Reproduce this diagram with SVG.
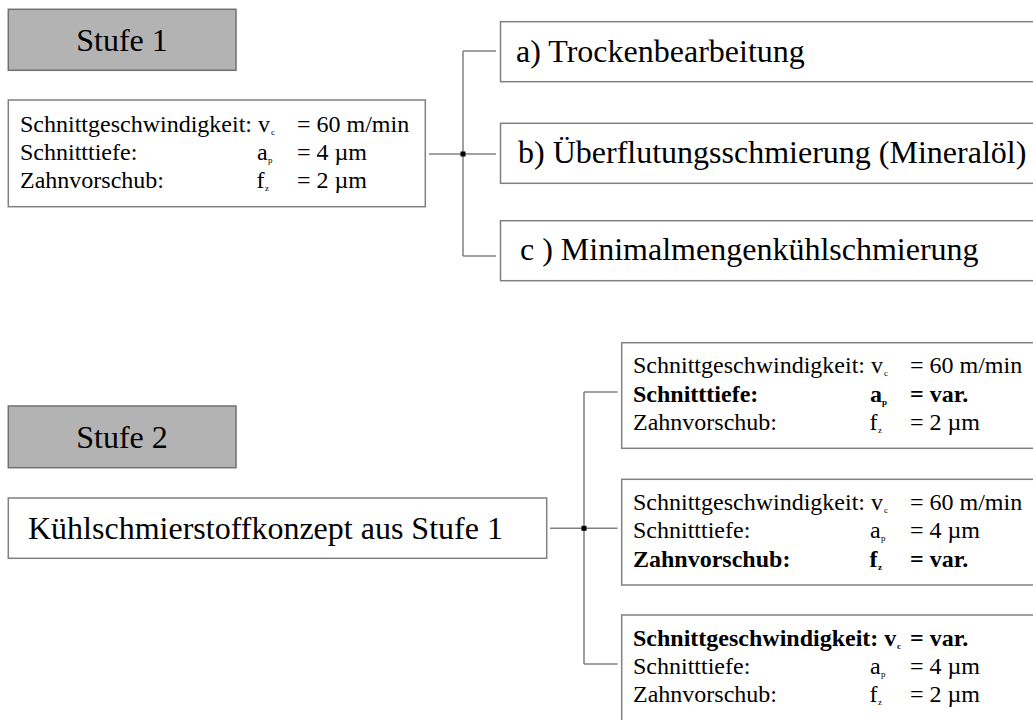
<svg xmlns="http://www.w3.org/2000/svg" width="1033" height="720" viewBox="0 0 1033 720">
<style>
text{font-family:"Liberation Serif","Times New Roman",serif;fill:#000}
.box{fill:#fff;stroke:#808080;stroke-width:1.5}
.stufe{fill:#b3b3b3;stroke:#707070;stroke-width:1.5}
.t32{font-size:32px}
.t24{font-size:24px}
.sub{font-size:9px}
.b{font-weight:bold}
.mid{text-anchor:middle}
.conn line{stroke:#808080;stroke-width:1.5}
.dot{fill:#000}
</style>
<rect width="1033" height="720" fill="#fff"/>

<g id="stufe1">
<rect class="stufe" x="8.3" y="9.3" width="227.7" height="61"/>
<text class="t32 mid" x="122" y="51">Stufe 1</text>
</g>

<g id="params1">
<rect class="box" x="8.3" y="100" width="417" height="106.7"/>
<text class="t24" x="20" y="132">Schnittgeschwindigkeit: v</text>
<text class="sub" x="271" y="135">c</text>
<text class="t24" x="297" y="132">= 60 m/min</text>
<text class="t24" x="20" y="160">Schnitttiefe:</text>
<text class="t24" x="257" y="160">a</text>
<text class="sub" x="268" y="163">p</text>
<text class="t24" x="297" y="160">= 4 µm</text>
<text class="t24" x="20" y="188">Zahnvorschub:</text>
<text class="t24" x="256.5" y="188">f</text>
<text class="sub" x="265" y="191">z</text>
<text class="t24" x="297" y="188">= 2 µm</text>
</g>

<g id="optA">
<rect class="box" x="500.5" y="21.7" width="600" height="60"/>
<text class="t32" x="516" y="62">a) Trockenbearbeitung</text>
</g>
<g id="optB">
<rect class="box" x="500.5" y="123.3" width="600" height="60"/>
<text class="t32" x="518" y="163">b) Überflutungsschmierung (Mineralöl)</text>
</g>
<g id="optC">
<rect class="box" x="500.5" y="220.7" width="600" height="60"/>
<text class="t32" x="520" y="260">c ) Minimalmengenkühlschmierung</text>
</g>

<g id="stufe2">
<rect class="stufe" x="8.3" y="406" width="227.7" height="61.7"/>
<text class="t32 mid" x="122" y="448">Stufe 2</text>
</g>
<g id="konzept">
<rect class="box" x="8.3" y="498" width="538.4" height="60.3"/>
<text class="t32" x="28" y="539">Kühlschmierstoffkonzept aus Stufe 1</text>
</g>

<g id="var1">
<rect class="box" x="621.7" y="342.7" width="500" height="105.6"/>
<text class="t24" x="633" y="373">Schnittgeschwindigkeit: v</text>
<text class="sub" x="884" y="376">c</text>
<text class="t24" x="910" y="373">= 60 m/min</text>
<text class="t24 b" x="633" y="401.5">Schnitttiefe:</text>
<text class="t24 b" x="870" y="401.5">a</text>
<text class="sub b" x="882" y="404.5">p</text>
<text class="t24 b" x="910" y="401.5">= var.</text>
<text class="t24" x="633" y="430">Zahnvorschub:</text>
<text class="t24" x="869.5" y="430">f</text>
<text class="sub" x="878" y="433">z</text>
<text class="t24" x="910" y="430">= 2 µm</text>
</g>

<g id="var2">
<rect class="box" x="621.7" y="479.3" width="500" height="105.7"/>
<text class="t24" x="633" y="510">Schnittgeschwindigkeit: v</text>
<text class="sub" x="884" y="513">c</text>
<text class="t24" x="910" y="510">= 60 m/min</text>
<text class="t24" x="633" y="538">Schnitttiefe:</text>
<text class="t24" x="870" y="538">a</text>
<text class="sub" x="881" y="541">p</text>
<text class="t24" x="910" y="538">= 4 µm</text>
<text class="t24 b" x="633" y="566.5">Zahnvorschub:</text>
<text class="t24 b" x="869.5" y="566.5">f</text>
<text class="sub b" x="878" y="569.5">z</text>
<text class="t24 b" x="910" y="566.5">= var.</text>
</g>

<g id="var3">
<rect class="box" x="621.7" y="615" width="500" height="200"/>
<text class="t24 b" x="633" y="645.5">Schnittgeschwindigkeit: v</text>
<text class="sub b" x="897" y="648.5">c</text>
<text class="t24 b" x="910" y="645.5">= var.</text>
<text class="t24" x="633" y="674">Schnitttiefe:</text>
<text class="t24" x="870" y="674">a</text>
<text class="sub" x="881" y="677">p</text>
<text class="t24" x="910" y="674">= 4 µm</text>
<text class="t24" x="633" y="702">Zahnvorschub:</text>
<text class="t24" x="869.5" y="702">f</text>
<text class="sub" x="878" y="705">z</text>
<text class="t24" x="910" y="702">= 2 µm</text>
</g>

<g id="connectors" class="conn">
<line x1="429" y1="154" x2="496" y2="154"/>
<line x1="463" y1="51" x2="463" y2="256"/>
<line x1="463" y1="51" x2="496" y2="51"/>
<line x1="463" y1="256" x2="496" y2="256"/>
<rect class="dot" x="460.5" y="151.5" width="5" height="5"/>
<line x1="550" y1="528.3" x2="617.5" y2="528.3"/>
<line x1="584" y1="392" x2="584" y2="664"/>
<line x1="584" y1="392" x2="617.5" y2="392"/>
<line x1="584" y1="664" x2="617.5" y2="664"/>
<rect class="dot" x="581.5" y="525.8" width="5" height="5"/>
</g>
</svg>
